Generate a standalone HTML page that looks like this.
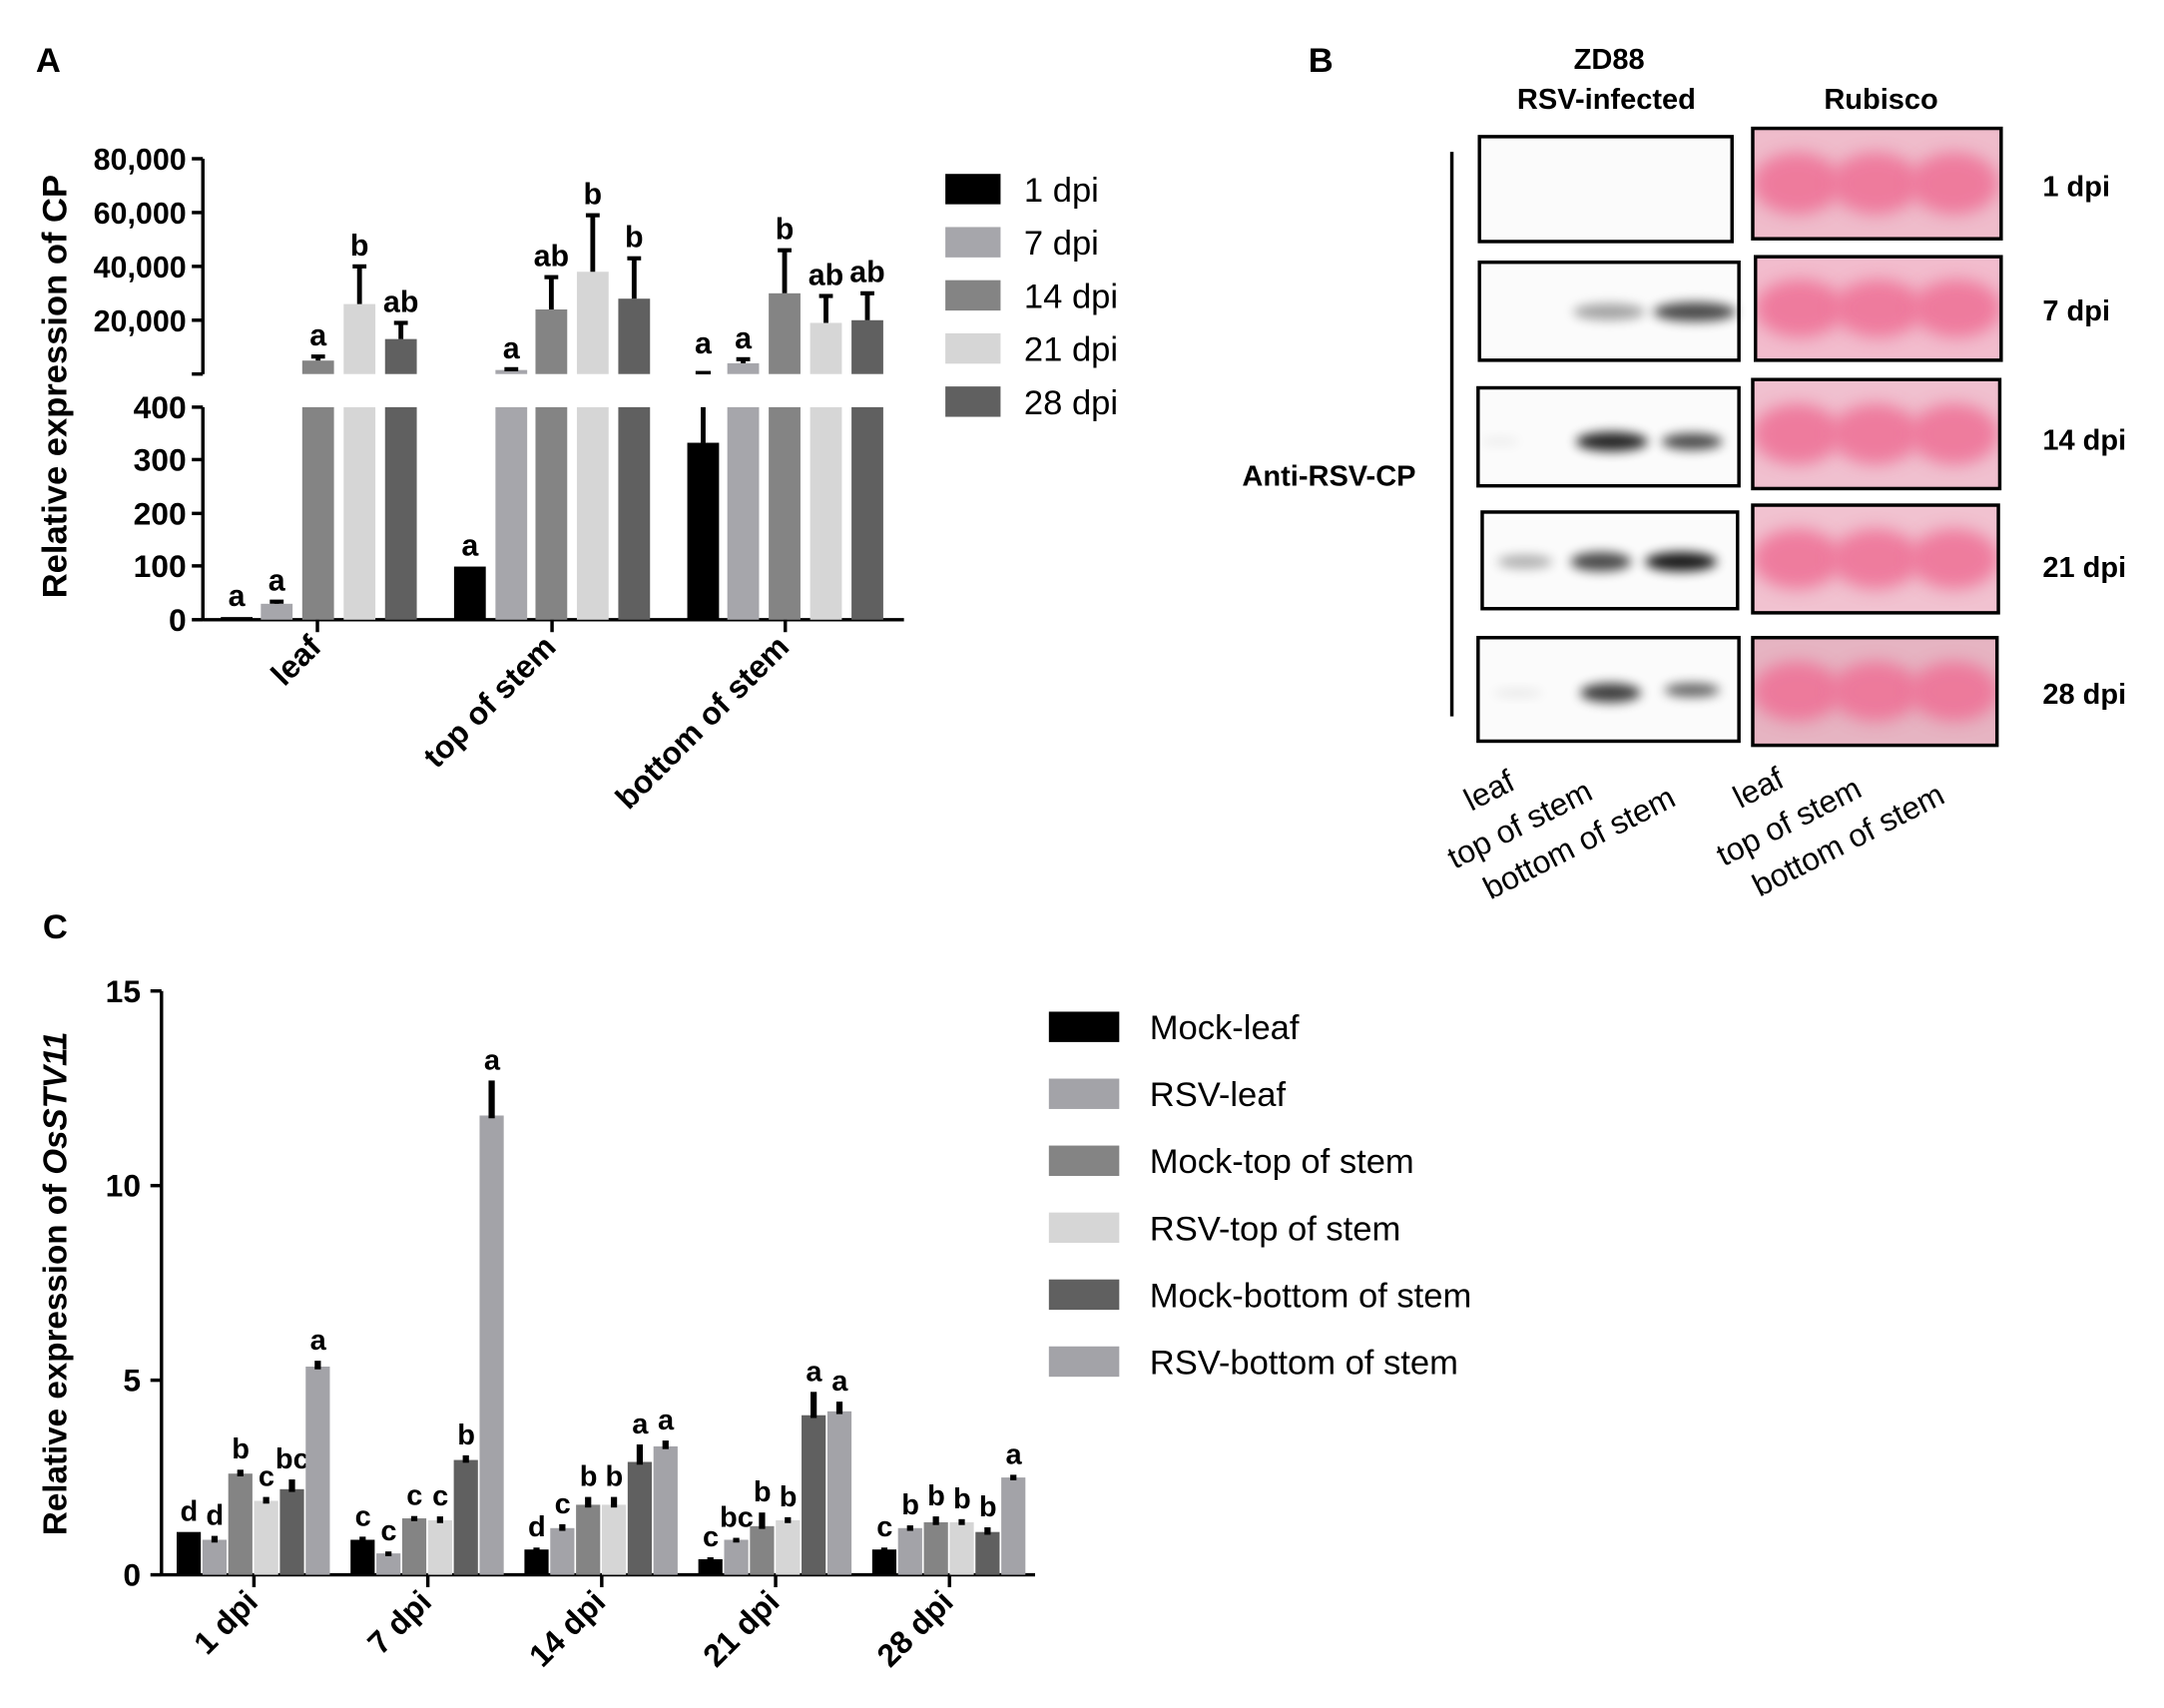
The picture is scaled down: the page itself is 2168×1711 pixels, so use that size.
<!DOCTYPE html>
<html><head><meta charset="utf-8"><style>
html,body{margin:0;padding:0;background:#fff;}
svg{display:block;}
text{font-family:"Liberation Sans",Arial,sans-serif;}
</style></head><body>
<svg id="s" width="2168" height="1711" viewBox="0 0 1568 1237.5" preserveAspectRatio="none" xmlns="http://www.w3.org/2000/svg">
<defs>
<filter id="bl" x="-30%" y="-50%" width="160%" height="200%"><feGaussianBlur stdDeviation="6"/></filter>
<filter id="bb" x="-30%" y="-80%" width="160%" height="260%"><feGaussianBlur stdDeviation="4"/></filter>
</defs>
<g id="g"></g>
</svg>
<script>
const NS="http://www.w3.org/2000/svg",G=document.getElementById('g');
let P=G;
function el(t,a,txt){const e=document.createElementNS(NS,t);for(const k in a)e.setAttribute(k,a[k]);if(txt!==undefined)e.textContent=txt;P.appendChild(e);return e;}
function R(x,y,w,h,f){return el('rect',{x,y,width:w,height:h,fill:f});}
function L(x1,y1,x2,y2,w){return el('line',{x1,y1,x2,y2,stroke:'#000','stroke-width':w||2.5});}
function T(x,y,s,o){o=o||{};const a={x,y,'font-size':o.fs||20,'font-weight':o.fw||'bold','text-anchor':o.a||'middle',fill:'#000'};if(o.tr)a.transform=o.tr;return el('text',a,s);}
// ---------- Panel A ----------
T(35,52,'A',{fs:25});
T(0,0,'Relative expression of CP',{fs:25,tr:'translate(48,280) rotate(-90)'});
L(147,115,147,271,2.5);L(147,295,147,450,2.5);L(147,449,655,449,2.5);
[[80000,115],[60000,154],[40000,193],[20000,232]].forEach(([v,y])=>{L(139,y,147,y);T(135,y+8,v.toLocaleString('en-US'),{fs:22,a:'end'});});
L(139,271,147,271);
[[400,295],[300,333],[200,372],[100,410],[0,449]].forEach(([v,y])=>{L(139,y,147,y);T(135,y+8,String(v),{fs:23,a:'end'});});
const cA=['#000','#a6a6ab','#848484','#d6d6d6','#606060'];
const yl=v=>449-v*0.385, yu=v=>271-v*0.00195;
const barsA=[
[160,0,5,null,null,null,'a'],[189,1,30,null,null,34,'a'],[219,2,'f',5000,6500,null,'a'],[249,3,'f',26000,40000,null,'b'],[279,4,'f',13000,19000,null,'ab'],
[329,0,100,null,null,null,'a'],[359,1,'f',1500,1800,null,'a'],[388,2,'f',24000,36000,null,'ab'],[418,3,'f',38000,59000,null,'b'],[448,4,'f',28000,43000,null,'b'],
[498,0,333,null,null,400,'a'],[527,1,'f',4000,5500,null,'a'],[557,2,'f',30000,46000,null,'b'],[587,3,'f',19000,29000,null,'ab'],[617,4,'f',20000,30000,null,'ab']];
const W=23;
barsA.forEach(([x,c,lo,up,eu,el_,lt])=>{
 const col=cA[c];
 if(lo==='f'){R(x,295,W,154,col);}else{R(x,yl(lo),W,449-yl(lo),col);}
 let ly;
 if(up!==null){const t=yu(up);R(x,t,W,271-t,col);
  if(eu){const et=yu(eu);L(x+W/2,t,x+W/2,et,3.5);L(x+W/2-5,et,x+W/2+5,et,3);}
  ly=(eu?yu(eu):t)-8;
 } else {
  let t=yl(lo);
  if(el_){const et=yl(el_);L(x+W/2,t,x+W/2,et,3.5);if(el_<400)L(x+W/2-5,et,x+W/2+5,et,3);t=et;}
  ly=t-8;
 }
 if(x===498){ly=256;L(x+6,270,x+17,270,2.5);}
 T(x+W/2,ly,lt,{fs:22});
});
[[230,'leaf'],[400,'top of stem'],[569,'bottom of stem']].forEach(([x,s])=>{L(x,449,x,458);T(0,0,s,{fs:23,a:'end',tr:`translate(${x+4},470) rotate(-45)`});});
['1 dpi','7 dpi','14 dpi','21 dpi','28 dpi'].forEach((s,i)=>{const y=137+i*38.5;R(685,y-11,40,22,cA[i]);T(742,y+9,s,{fs:25,fw:'normal',a:'start'});});
// ---------- Panel B ----------
T(957,52,'B',{fs:25});
T(1166,50,'ZD88',{fs:21});T(1164,79,'RSV-infected',{fs:21});T(1363,79,'Rubisco',{fs:21});
L(1052,110,1052,519,2.5);
T(963,352,'Anti-RSV-CP',{fs:21});
const Lb=[[1072,99,183,76],[1072,190,188,71],[1071,281,189,71],[1074,371,185,70],[1071,462,189,75]];
const Rb=[[1270,93,180,80],[1272,186,178,75],[1270,275,179,79],[1270,366,178,78],[1270,462,177,78]];
const bands=[[],[[1166,226,26,6,0.35],[1228,226,30,7,0.7]],[[1087,320,14,3,0.06],[1168,320,26,7,0.85],[1226,320,22,6,0.7]],[[1105,407,20,5,0.3],[1160,407,22,7,0.7],[1218,407,26,7,0.9]],[[1100,502,18,3,0.08],[1167,502,22,7,0.75],[1226,500,20,5,0.6]]];
Lb.forEach(([x,y,w,h],i)=>{R(x,y,w,h,'#fbfbfb');
 bands[i].forEach(([cx,cy,rx,ry,op])=>el('ellipse',{cx,cy,rx,ry,fill:'#000',opacity:op,filter:'url(#bb)'}));
 el('rect',{x,y,width:w,height:h,fill:'none',stroke:'#000','stroke-width':2.5});});
const pinkBg=['#efbccb','#f2bccd','#f0c0cf','#f1c2d0','#e6b4c2'];
const defs=document.querySelector('defs');
Rb.forEach(([x,y,w,h],i)=>{
 const cp=document.createElementNS(NS,'clipPath');cp.setAttribute('id','c'+i);
 const cr=document.createElementNS(NS,'rect');cr.setAttribute('x',x);cr.setAttribute('y',y);cr.setAttribute('width',w);cr.setAttribute('height',h);cp.appendChild(cr);defs.appendChild(cp);
 const grp=el('g',{'clip-path':'url(#c'+i+')'});P=grp;
 R(x,y,w,h,pinkBg[i]);
 for(let k=0;k<3;k++){el('ellipse',{cx:x+32+k*57,cy:y+h*0.5,rx:32,ry:h*0.28,fill:'#ee6f95',opacity:0.85,filter:'url(#bl)'});}
 P=G;
 el('rect',{x,y,width:w,height:h,fill:'none',stroke:'#000','stroke-width':2.5});});
[['1 dpi',135],['7 dpi',225],['14 dpi',319],['21 dpi',411],['28 dpi',503]].forEach(([s,y])=>T(1480,y+7,s,{fs:21,a:'start'}));
[['leaf',1066,588],['top of stem',1054,630],['bottom of stem',1080,652]].forEach(([s,x,y])=>{
 T(0,0,s,{fs:23,fw:'normal',a:'start',tr:`translate(${x},${y}) rotate(-27)`});
 T(0,0,s,{fs:23,fw:'normal',a:'start',tr:`translate(${x+195},${y-2}) rotate(-27)`});});
// ---------- Panel C ----------
T(40,680,'C',{fs:25});
const yl2=el('text',{'font-size':24,'font-weight':'bold','text-anchor':'middle',transform:'translate(48,930) rotate(-90)'});
yl2.innerHTML='Relative expression of <tspan font-style="italic">OsSTV11</tspan>';
L(117,718,117,1142,2.5);L(117,1141,750,1141,2.5);
const yc=v=>1141-v*28.2;
[0,5,10,15].forEach(v=>{L(109,yc(v),117,yc(v));T(102,yc(v)+8,String(v),{fs:23,a:'end'});});
const cC=['#000','#a3a3a8','#848484','#d6d6d6','#606060','#a3a3a8'];
const vals=[[1.1,0.9,2.6,1.9,2.2,5.35],[0.9,0.55,1.45,1.4,2.95,11.8],[0.65,1.2,1.8,1.8,2.9,3.3],[0.4,0.9,1.25,1.4,4.1,4.2],[0.65,1.2,1.35,1.35,1.1,2.5]];
const errs=[[0,0.1,0.1,0.1,0.25,0.15],[0.08,0.05,0.06,0.1,0.12,0.9],[0.05,0.1,0.2,0.2,0.45,0.15],[0.05,0.05,0.35,0.08,0.6,0.25],[0.05,0.07,0.15,0.08,0.12,0.07]];
const lets=[['d','d','b','c','bc','a'],['c','c','c','c','b','a'],['d','c','b','b','a','a'],['c','bc','b','b','a','a'],['c','b','b','b','b','a']];
const labs=['1 dpi','7 dpi','14 dpi','21 dpi','28 dpi'];
for(let g=0;g<5;g++){const cx=184+g*126;
 for(let i=0;i<6;i++){const x=cx-56+i*18.7,v=vals[g][i],t=yc(v);R(x,t,17.5,1141-t,cC[i]);
  const e=errs[g][i];let top=t;if(e>0){top=yc(v+e);R(x+6.5,top,4.5,t-top+2,'#000');}
  T(x+9,top-8,lets[g][i],{fs:21});}
 L(cx,1141,cx,1150);T(0,0,labs[g],{fs:23,a:'end',tr:`translate(${cx+4},1162) rotate(-45)`});}
['Mock-leaf','RSV-leaf','Mock-top of stem','RSV-top of stem','Mock-bottom of stem','RSV-bottom of stem'].forEach((s,i)=>{const y=744+i*48.5;R(760,y-11,51,22,cC[i]);T(833,y+9,s,{fs:25,fw:'normal',a:'start'});});
</script>
</body></html>
